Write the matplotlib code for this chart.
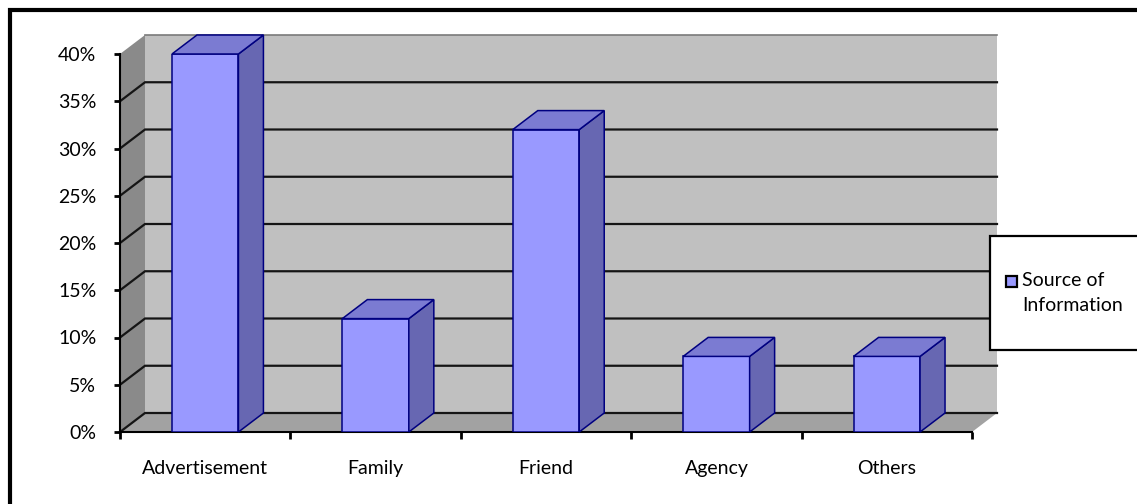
import matplotlib
matplotlib.use('Agg')
import matplotlib.pyplot as plt
from matplotlib.patches import Polygon, Rectangle

# survey answers: where people heard about us
categories = ['Advertisement', 'Family', 'Friend', 'Agency', 'Others']
share = [0.40, 0.12, 0.32, 0.08, 0.08]
y_ticks = [0.0, 0.05, 0.10, 0.15, 0.20, 0.25, 0.30, 0.35, 0.40]
y_labels = ['0%', '5%', '10%', '15%', '20%', '25%', '30%', '35%', '40%']
series_name = 'Source of\nInformation'

plt.rcParams['font.family'] = ['Lato', 'DejaVu Sans']
FS = 14

W, H = 1137, 504
fig = plt.figure(figsize=(W / 100, H / 100), dpi=100)
ax = fig.add_axes([120 / W, 72 / H, 852 / W, 378 / H])
x0, x1 = -0.5, len(categories) - 0.5
ax.set_xlim(x0, x1)
ax.set_ylim(y_ticks[0], y_ticks[-1])
ax.patch.set_visible(False)

# depth of the fake 3d box in data units (about 25 px right, 19 px up)
dx = 25 / 852 * (x1 - x0)
dy = 19 / 378 * (y_ticks[-1] - y_ticks[0])
ytop = y_ticks[-1]

# back wall, left wall and floor
ax.add_patch(Polygon([(x0 + dx, dy), (x1 + dx, dy), (x1 + dx, ytop + dy), (x0 + dx, ytop + dy)],
                     closed=True, fc='#c0c0c0', ec='none', clip_on=False, zorder=0.5))
ax.add_patch(Polygon([(x0, 0), (x0, ytop), (x0 + dx, ytop + dy), (x0 + dx, dy)],
                     closed=True, fc='#8a8a8a', ec='none', clip_on=False, zorder=0.6))
ax.add_patch(Polygon([(x0, 0), (x1, 0), (x1 + dx, dy), (x0 + dx, dy)],
                     closed=True, fc='#a2a2a2', ec='none', clip_on=False, zorder=0.6))
ax.plot([x0 + dx, x1 + dx], [ytop + dy, ytop + dy], color='#7a7a7a', lw=1.2,
        clip_on=False, zorder=0.7)

# gridlines running along the side wall and back wall
for yv in y_ticks[:-1]:
    ax.plot([x0, x0 + dx, x1 + dx], [yv, yv + dy, yv + dy], color='#151515', lw=1.6,
            clip_on=False, zorder=1, solid_joinstyle='miter')

# columns: front face from ax.bar, side and top as polygons
xs = list(range(len(categories)))
bw = 0.39
ax.bar(xs, share, width=bw, color='#9999ff', edgecolor='#000080', lw=1.1, zorder=3)
for xc, v in zip(xs, share):
    l, r = xc - bw / 2, xc + bw / 2
    ax.add_patch(Polygon([(r, 0), (r, v), (r + dx, v + dy), (r + dx, dy)], closed=True,
                         fc='#6767b2', ec='#000080', lw=1.1, clip_on=False, zorder=3))
    ax.add_patch(Polygon([(l, v), (r, v), (r + dx, v + dy), (l + dx, v + dy)], closed=True,
                         fc='#7b7bd2', ec='#000080', lw=1.1, clip_on=False, zorder=3))

# axes
for s in ['top', 'right']:
    ax.spines[s].set_visible(False)
for s in ['left', 'bottom']:
    ax.spines[s].set_color('black')
    ax.spines[s].set_linewidth(1.5)
    ax.spines[s].set_zorder(2.5)

ax.set_yticks(y_ticks)
ax.set_yticklabels(y_labels)
ax.tick_params(axis='y', direction='out', length=4, width=2, pad=13, labelsize=FS)

ax.set_xticks([i - 0.5 for i in range(len(categories) + 1)])
ax.set_xticklabels([])
ax.set_xticks(xs, minor=True)
ax.set_xticklabels(categories, minor=True)
ax.tick_params(axis='x', which='major', direction='out', length=5, width=2)
ax.tick_params(axis='x', which='minor', length=0, pad=20, labelsize=FS)

# legend box, cut by the right edge
fig.add_artist(Rectangle((990 / W, (H - 350) / H), 200 / W, 114 / H, transform=fig.transFigure,
                         fc='white', ec='black', lw=1.6, clip_on=False))
fig.add_artist(Rectangle((1006 / W, (H - 287) / H), 11 / W, 11 / H, transform=fig.transFigure,
                         fc='#9999ff', ec='black', lw=1.6))
fig.text(1022 / W, (H - 272) / H, series_name, fontsize=FS, va='top', ha='left',
         linespacing=1.6)

# outer chart border
fig.add_artist(Rectangle((9.5 / W, -0.2), 1.2, (H - 9.5) / H + 0.2, transform=fig.transFigure,
                         fill=False, ec='black', lw=3, clip_on=False))

fig.savefig('out.png', dpi=100)
